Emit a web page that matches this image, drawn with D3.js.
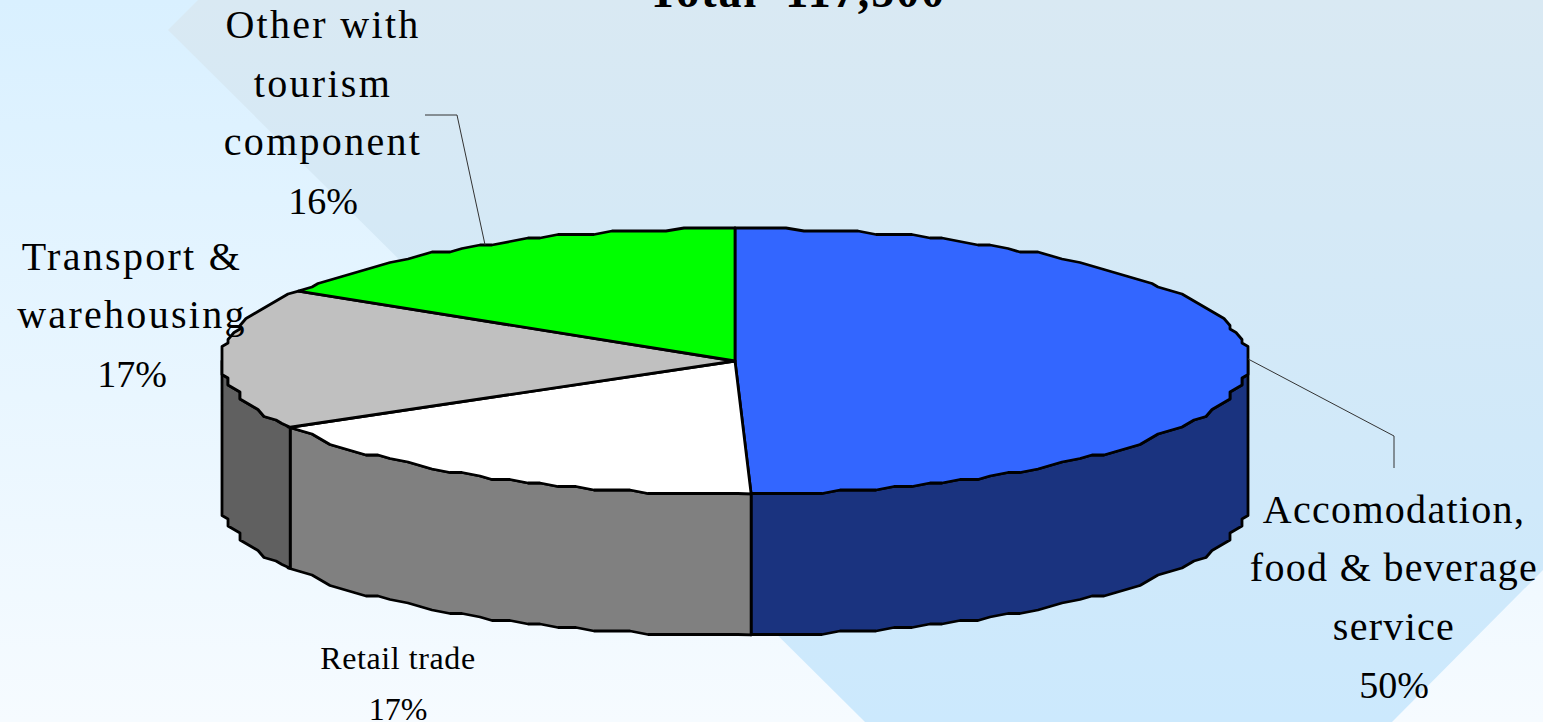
<!DOCTYPE html>
<html>
<head>
<meta charset="utf-8">
<script src="https://cdn.jsdelivr.net/npm/d3@7"></script>
<style>
  html, body { margin: 0; padding: 0; overflow: hidden; }
  svg { display: block; }
  text { font-family: "Liberation Serif", serif; fill: #000; text-anchor: middle; white-space: pre; }
</style>
</head>
<body>
<div id="chart"></div>
<script>
// DATA
const categories = ["Accomodation, food & beverage service", "Retail trade", "Transport & warehousing", "Other with tourism component"];
const shares = [49.5, 17.2, 17.1, 16.2];
const shareLabels = ["50%", "17%", "17%", "16%"];
const titleText = "Total  117,500";

// label text is broken up the same way as the picture
const labelLines = [
    ["Accomodation,", "food & beverage", "service"],
    ["Retail trade"],
    ["Transport &", "warehousing"],
    ["Other with", "tourism", "component"]
];

const w = 1543, h = 722;
const topColors = ["#3366ff", "#ffffff", "#c0c0c0", "#00ff00"];
const sideColors = ["#1a337f", "#808080", "#606060", "#008000"];

const svg = d3.select("#chart").append("svg").attr("width", w).attr("height", h);

// BACKGROUND
const defs = svg.append("defs");
const pageGrad = defs.append("linearGradient").attr("id", "pageGrad").attr("x1", 0).attr("y1", 0).attr("x2", 0).attr("y2", 1);
pageGrad.append("stop").attr("offset", 0).attr("stop-color", "#d9f0ff");
pageGrad.append("stop").attr("offset", 1).attr("stop-color", "#f6fbff");
const bandGrad = defs.append("linearGradient").attr("id", "bandGrad").attr("x1", 0).attr("y1", 0).attr("x2", 0).attr("y2", 1);
bandGrad.append("stop").attr("offset", 0).attr("stop-color", "#d9e9f3");
bandGrad.append("stop").attr("offset", 1).attr("stop-color", "#cce9fd");

svg.append("rect").attr("width", w).attr("height", h).attr("fill", "url(#pageGrad)");
svg.append("polygon")
    .attr("points", "168,30 198,0 1543,0 1543,570 1392,722 865,722")
    .attr("fill", "url(#bandGrad)");

// SCALES: unit circle onto the tilted ellipse
const cx = 735, cy = 361, rx = 513, ry = 133, depth = 141;
const xScale = d3.scaleLinear().domain([-1, 1]).range([cx - rx, cx + rx]);
const yScale = d3.scaleLinear().domain([-1, 1]).range([cy - ry, cy + ry]);

const arcs = d3.pie().sort(null)(shares);

// the rim in the picture is stepped, so snap it to a coarse grid.
// samples sit on fixed angles so that walls and top face share the same edge
const snap = (v, step) => Math.round(v / step) * step;
const angleStep = Math.PI / 90;
function rim(a0, a1) {
    const pts = [[xScale(Math.sin(a0)), yScale(-Math.cos(a0))]];
    for (let k = Math.floor(a0 / angleStep) + 1; k * angleStep < a1; k++) {
        const a = k * angleStep;
        pts.push([
            Math.max(cx - rx, Math.min(cx + rx, snap(xScale(Math.sin(a)), 6))),
            Math.max(cy - ry, Math.min(cy + ry, snap(yScale(-Math.cos(a)), 3.5)))
        ]);
    }
    pts.push([xScale(Math.sin(a1)), yScale(-Math.cos(a1))]);
    return pts;
}
const line = d3.line();

// WALLS, only the front half of the cylinder shows
const wallStart = Math.PI / 2, wallEnd = Math.PI * 1.5;
svg.append("g").selectAll("path")
    .data(arcs.filter(d => d.endAngle > wallStart && d.startAngle < wallEnd))
    .enter().append("path")
    .attr("d", d => {
        const top = rim(Math.max(d.startAngle, wallStart), Math.min(d.endAngle, wallEnd));
        const bottom = top.slice().reverse().map(p => [p[0], p[1] + depth]);
        return line(top.concat(bottom)) + "Z";
    })
    .attr("fill", d => sideColors[d.index])
    .attr("stroke", "#000")
    .attr("stroke-width", 2.8)
    .attr("stroke-linejoin", "round");

// TOP FACE
svg.append("g").selectAll("path")
    .data(arcs)
    .enter().append("path")
    .attr("d", d => line([[cx, cy]].concat(rim(d.startAngle, d.endAngle))) + "Z")
    .attr("fill", d => topColors[d.index])
    .attr("stroke", "#000")
    .attr("stroke-width", 2.8)
    .attr("stroke-linejoin", "round");

// LEADER LINES, from the middle of the slice
const leaders = [
    { index: 0, via: [[1394, 436], [1394, 468]] },
    { index: 3, via: [[457, 115], [425, 115]] }
];
svg.append("g").selectAll("path")
    .data(leaders)
    .enter().append("path")
    .attr("d", d => {
        const a = (arcs[d.index].startAngle + arcs[d.index].endAngle) / 2;
        return line([[xScale(Math.sin(a)), yScale(-Math.cos(a))]].concat(d.via));
    })
    .attr("fill", "none")
    .attr("stroke", "#333")
    .attr("stroke-width", 1);

// LABELS
const labelPlace = [
    { x: 1394, y: [523, 581, 640, 698], size: 40, spacing: 1.3, pctSize: 38 },
    { x: 398, y: [669, 720], size: 32, spacing: 0.6, pctSize: 32 },
    { x: 132, y: [270, 328, 387], size: 40, spacing: 2.3, pctSize: 38 },
    { x: 323, y: [38, 97, 155, 214], size: 40, spacing: 2.3, pctSize: 38 }
];
labelPlace.forEach((p, i) => {
    labelLines[i].forEach((t, j) => {
        svg.append("text")
            .attr("x", p.x)
            .attr("y", p.y[j])
            .attr("font-size", p.size)
            .attr("letter-spacing", p.spacing)
            .text(t);
    });
    svg.append("text")
        .attr("x", p.x)
        .attr("y", p.y[labelLines[i].length])
        .attr("font-size", p.pctSize)
        .text(shareLabels[i]);
});

// TITLE, cut off by the top of the picture
svg.append("text")
    .attr("x", 797)
    .attr("y", 7)
    .attr("font-size", 46)
    .attr("font-weight", "bold")
    .attr("letter-spacing", 2)
    .text(titleText);
</script>
</body>
</html>
